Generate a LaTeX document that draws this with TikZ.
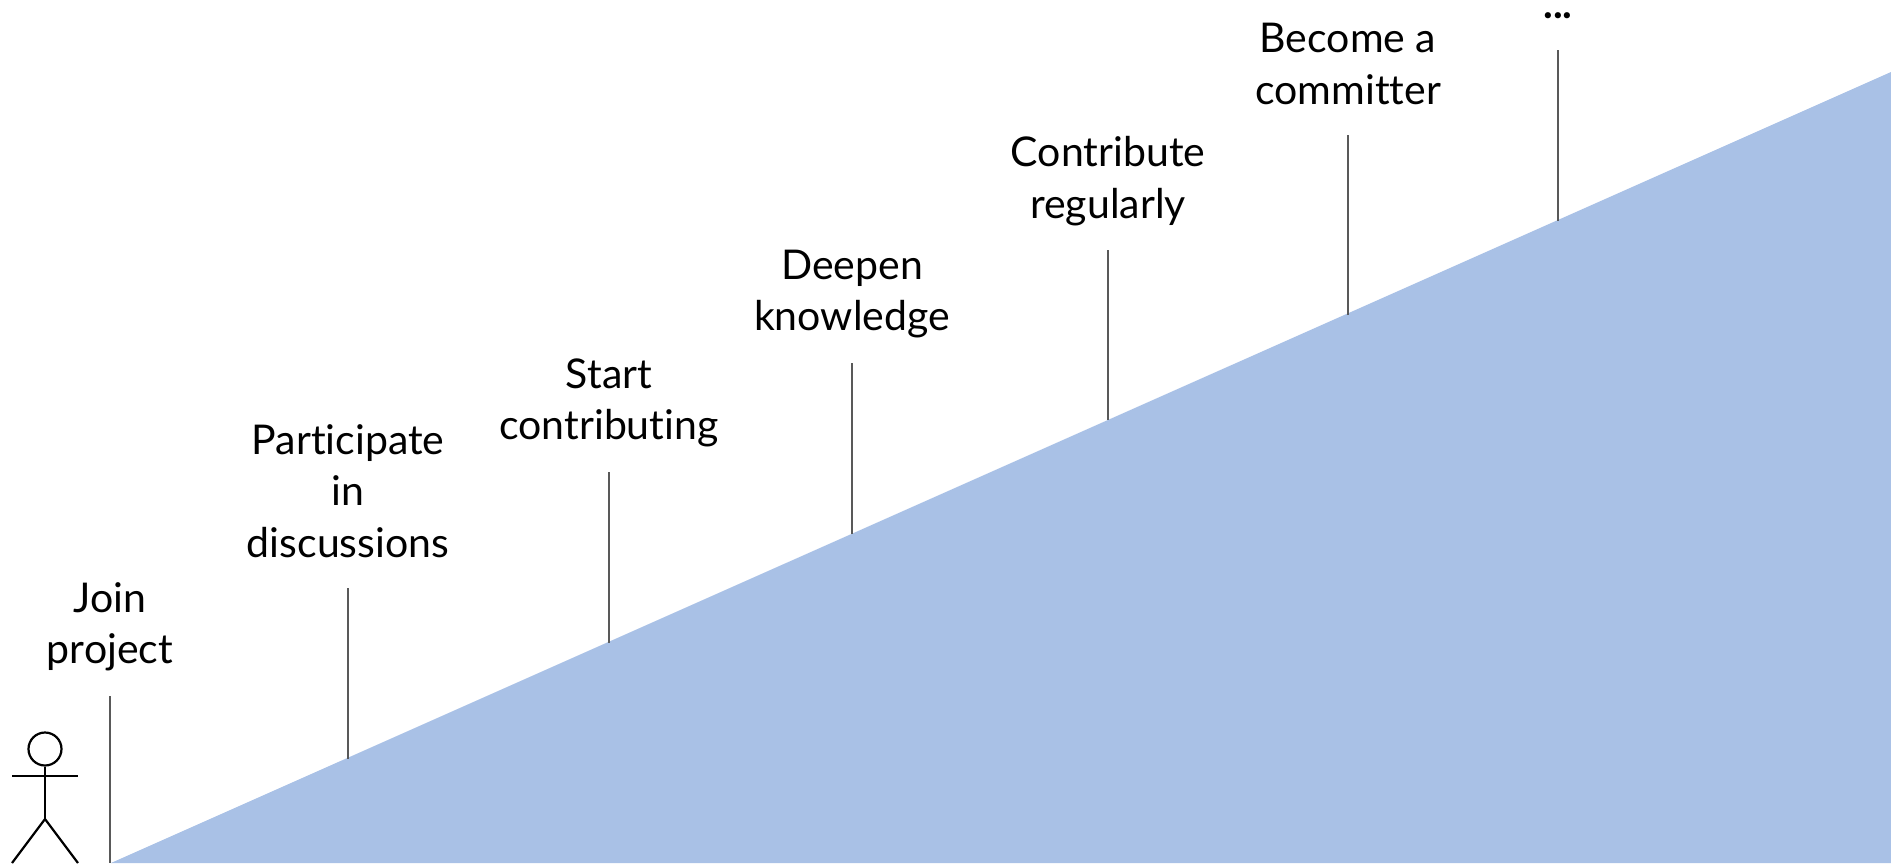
\documentclass[tikz,border=0pt]{standalone}
\usepackage{fontspec}
\setmainfont[Ligatures=CommonOff]{Lato}
\definecolor{slope}{HTML}{A9C1E6}
\definecolor{tick}{HTML}{595959}
\tikzset{
  x=1pt,y=-1pt,
  label/.style={align=center,inner sep=0pt,font=\fontsize{41}{51.5}\selectfont},
  tickline/.style={draw=tick,line width=1.8pt},
  figure/.style={draw=black,line width=2.2pt},
}
\begin{document}
\begin{tikzpicture}
\useasboundingbox (0,0) rectangle (1891,863);
\fill[slope] (111,863) -- (1891,72) -- (1891,863) -- cycle;
\node[label] (join) at (110,627) {Join\\project};
\node[label] (part) at (348,491) {Participate\\in\\discussions};
\node[label] (start) at (609,403) {Start\\contributing};
\node[label] (deep) at (852,294) {Deepen\\knowledge};
\node[label] (contr) at (1108,181) {Contribute\\regularly};
\node[label] (comm) at (1348,64) {Become a\\committer};
\node[label,anchor=base,font=\fontsize{41}{51.5}\selectfont\bfseries] (more) at (1558,18) {...};
\foreach \n/\x/\t/\b in {a/110/696/863,b/348/588/759,c/609/472/643,d/852/363/534,e/1108/250/420,f/1348/135/315,g/1558/50/221}{
  \coordinate (\n t) at (\x,\t);
  \coordinate (\n b) at (\x,\b);
  \draw[tickline] (\n t) -- (\n b);
}
\node[draw=black,line width=2.2pt,circle,minimum size=33pt,inner sep=0pt] (head) at (45,749) {};
\coordinate (hip) at (45,819);
\coordinate (armL) at (12,776);
\coordinate (armR) at (78,776);
\coordinate (footL) at (12,863);
\coordinate (footR) at (78,863);
\draw[figure] (head.south) -- (hip);
\draw[figure] (armL) -- (armR);
\draw[figure] (footL) -- (hip) -- (footR);
\end{tikzpicture}
\end{document}
